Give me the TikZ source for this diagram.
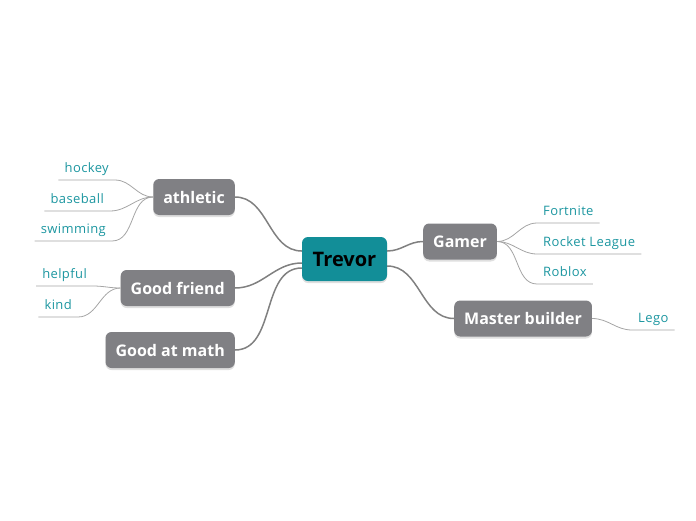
\documentclass[tikz,border=0pt]{standalone}
\usepackage{fontspec}
\setmainfont{Open Sans}
\usetikzlibrary{shadows}

\definecolor{trevorteal}{RGB}{18,142,152}
\definecolor{topicgray}{RGB}{128,128,132}
\definecolor{leafteal}{RGB}{28,150,160}
\definecolor{branchgray}{RGB}{128,128,128}
\definecolor{twiggray}{RGB}{165,165,165}

\begin{document}
\begin{tikzpicture}[
    x=1pt, y=-1pt,
    central/.style={fill=trevorteal, text=black, rounded corners=6pt, minimum width=85pt, minimum height=44pt,
        font=\fontsize{20}{22}\selectfont\bfseries, drop shadow={shadow xshift=0pt, shadow yshift=-2pt, opacity=0.25}},
    topic/.style={fill=topicgray, text=white, rounded corners=6pt, minimum height=36pt, inner xsep=10pt,
        font=\fontsize{16}{18}\selectfont\bfseries, drop shadow={shadow xshift=0pt, shadow yshift=-2pt, opacity=0.25}},
    leaf/.style={text=leafteal, inner xsep=6pt, inner ysep=3.5pt, text depth=4pt,
        font=\fontsize{13}{15}\selectfont\addfontfeatures{LetterSpace=3}},
    branch/.style={draw=branchgray, line width=1.5pt},
    twig/.style={draw=twiggray, line width=0.8pt},
]
    \useasboundingbox (0,0) rectangle (696,520);

    % centre and main topics
    \node[central] (trevor) at (344.5,259) {Trevor};
    \node[topic, anchor=east] (athletic) at (235,197) {athletic};
    \node[topic, anchor=east] (friend) at (235,288) {Good friend};
    \node[topic, anchor=east] (math) at (235,350) {Good at math};
    \node[topic, anchor=west] (gamer) at (423,241.5) {Gamer};
    \node[topic, anchor=west] (builder) at (454,318.5) {Master builder};

    \draw[branch] (athletic.east) to[out=0,in=180] ([yshift=8pt]trevor.west);
    \draw[branch] (friend.east) to[out=0,in=180] ([yshift=-4pt]trevor.west);
    \draw[branch] (math.east) to[out=0,in=180] ([yshift=-9pt]trevor.west);
    \draw[branch] ([yshift=8pt]trevor.east) to[out=0,in=180] (gamer.west);
    \draw[branch] ([yshift=-7pt]trevor.east) to[out=0,in=180] (builder.west);

    % leaves
    \node[leaf, anchor=south east] (hockey) at (115,180) {hockey};
    \node[leaf, anchor=south east] (baseball) at (110,211) {baseball};
    \node[leaf, anchor=south east] (swimming) at (112,241) {swimming};
    \node[leaf, anchor=south east] (helpful) at (93,286) {helpful};
    \node[leaf, anchor=south east] (kind) at (78,317) {kind};
    \node[leaf, anchor=south west] (fortnite) at (537,223) {Fortnite};
    \node[leaf, anchor=south west] (rocket) at (537,254) {Rocket League};
    \node[leaf, anchor=south west] (roblox) at (537,284) {Roblox};
    \node[leaf, anchor=south west] (lego) at (632,330) {Lego};

    \draw[twig] (athletic.west) to[out=180,in=0] (hockey.south east) -- (hockey.south west);
    \draw[twig] (athletic.west) to[out=180,in=0] (baseball.south east) -- (baseball.south west);
    \draw[twig] (athletic.west) to[out=180,in=0] (swimming.south east) -- (swimming.south west);
    \draw[twig] (friend.west) to[out=180,in=0] (helpful.south east) -- (helpful.south west);
    \draw[twig] (friend.west) to[out=180,in=0] (kind.south east) -- (kind.south west);
    \draw[twig] (gamer.east) to[out=0,in=180] (fortnite.south west) -- (fortnite.south east);
    \draw[twig] (gamer.east) to[out=0,in=180] (rocket.south west) -- (rocket.south east);
    \draw[twig] (gamer.east) to[out=0,in=180] (roblox.south west) -- (roblox.south east);
    \draw[twig] (builder.east) to[out=0,in=180] (lego.south west) -- (lego.south east);
\end{tikzpicture}
\end{document}
